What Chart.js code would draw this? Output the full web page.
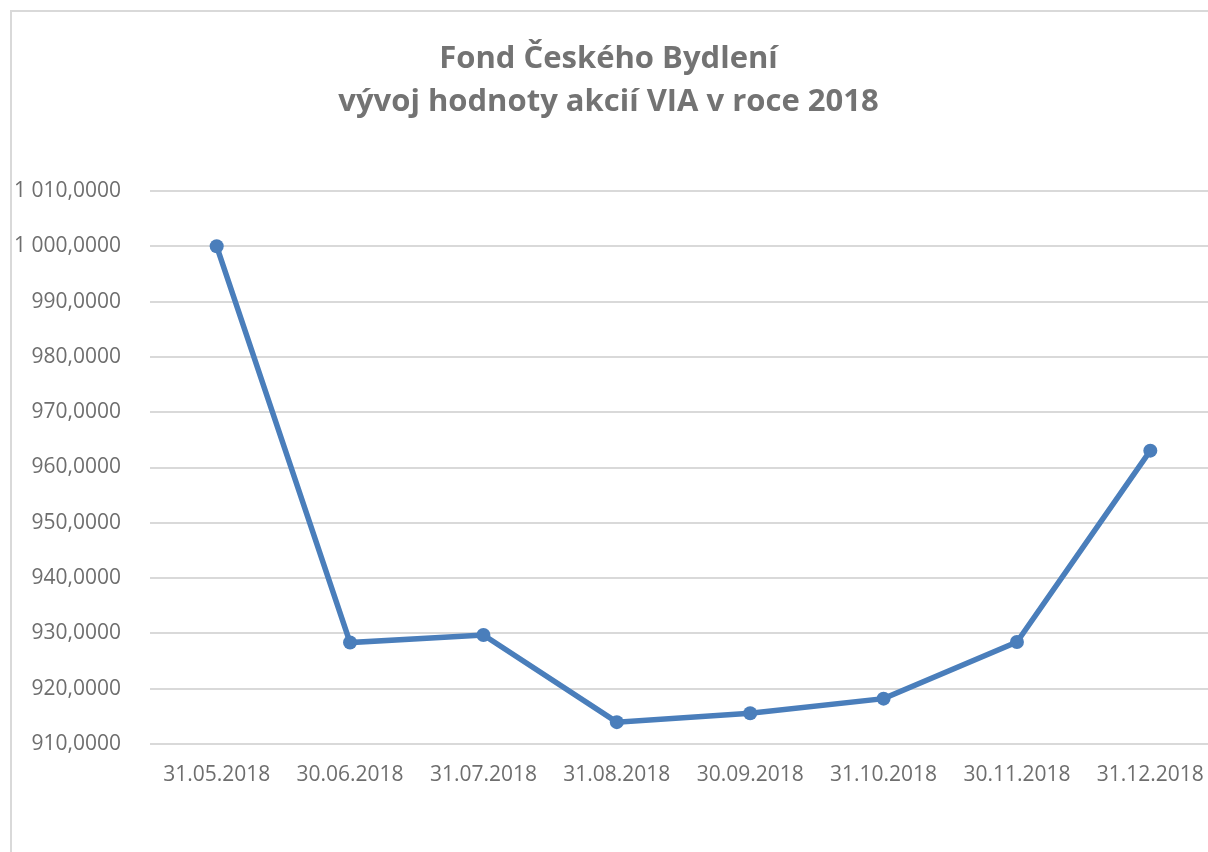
<!DOCTYPE html>
<html lang="cs">
<head>
    <meta charset="UTF-8">
    <title>Fond Českého Bydlení</title>
    <script src="https://cdn.jsdelivr.net/npm/chart.js"></script>
    <style>
        html, body { margin: 0; padding: 0; background: #fff; overflow: hidden; }
        #frame {
            position: absolute; left: 10px; top: 10px; width: 1300px; height: 900px;
            border-left: 2px solid #d9d9d9; border-top: 2px solid #d9d9d9;
            pointer-events: none;
        }
        #chart { position: absolute; left: 0; top: 0; }
    </style>
</head>
<body>
<canvas id="chart" width="1226" height="852"></canvas>
<div id="frame"></div>

<script>
const titleLines = ['Fond Českého Bydlení', 'vývoj hodnoty akcií VIA v roce 2018'];
const dates = ['31.05.2018', '30.06.2018', '31.07.2018', '31.08.2018',
               '30.09.2018', '31.10.2018', '30.11.2018', '31.12.2018'];
const values = [1000.0, 928.35, 929.7, 913.95, 915.55, 918.2, 928.45, 963.05];
const yMin = 910;
const yMax = 1010;
const yStep = 10;

const tickFont = '"Open Sans", Lato, sans-serif';
const titleFont = '"Open Sans", Lato, sans-serif';
const textGray = '#6e6e6e';

function fmtValue(v) {
    // 1 010,0000 style
    const parts = v.toFixed(4).split('.');
    const intPart = parts[0].replace(/\B(?=(\d{3})+(?!\d))/g, ' ');
    return intPart + ',' + parts[1];
}

new Chart(document.getElementById('chart'), {
    type: 'line',
    data: {
        labels: dates,
        datasets: [{
            data: values,
            borderColor: '#4a7ebb',
            backgroundColor: '#4a7ebb',
            borderWidth: 5.5,
            pointRadius: 7,
            pointBackgroundColor: '#4a7ebb',
            pointBorderWidth: 0,
            tension: 0,
            fill: false
        }]
    },
    options: {
        responsive: false,
        animation: false,
        layout: { padding: { left: 0, right: 9, top: 0, bottom: 0 } },
        plugins: {
            legend: { display: false },
            tooltip: { enabled: false },
            title: {
                display: true,
                text: titleLines,
                color: '#737373',
                font: { family: titleFont, size: 31, weight: 'bold', lineHeight: '43px' },
                padding: { top: 38, bottom: 67 }
            }
        },
        scales: {
            x: {
                offset: true,
                grid: { display: false, drawTicks: false, offset: true },
                border: { display: false },
                ticks: {
                    color: textGray,
                    padding: 18,
                    maxRotation: 0,
                    autoSkip: false,
                    font: { family: tickFont, size: 21 }
                },
                afterFit: s => { s.height = 108; }
            },
            y: {
                min: yMin,
                max: yMax,
                grid: { color: '#d9d9d9', lineWidth: 2, drawTicks: false },
                border: { display: false },
                ticks: {
                    stepSize: yStep,
                    color: textGray,
                    padding: 29,
                    font: { family: tickFont, size: 21 },
                    callback: v => fmtValue(v)
                },
                afterFit: s => { s.width = 150; }
            }
        }
    }
});
</script>
</body>
</html>
